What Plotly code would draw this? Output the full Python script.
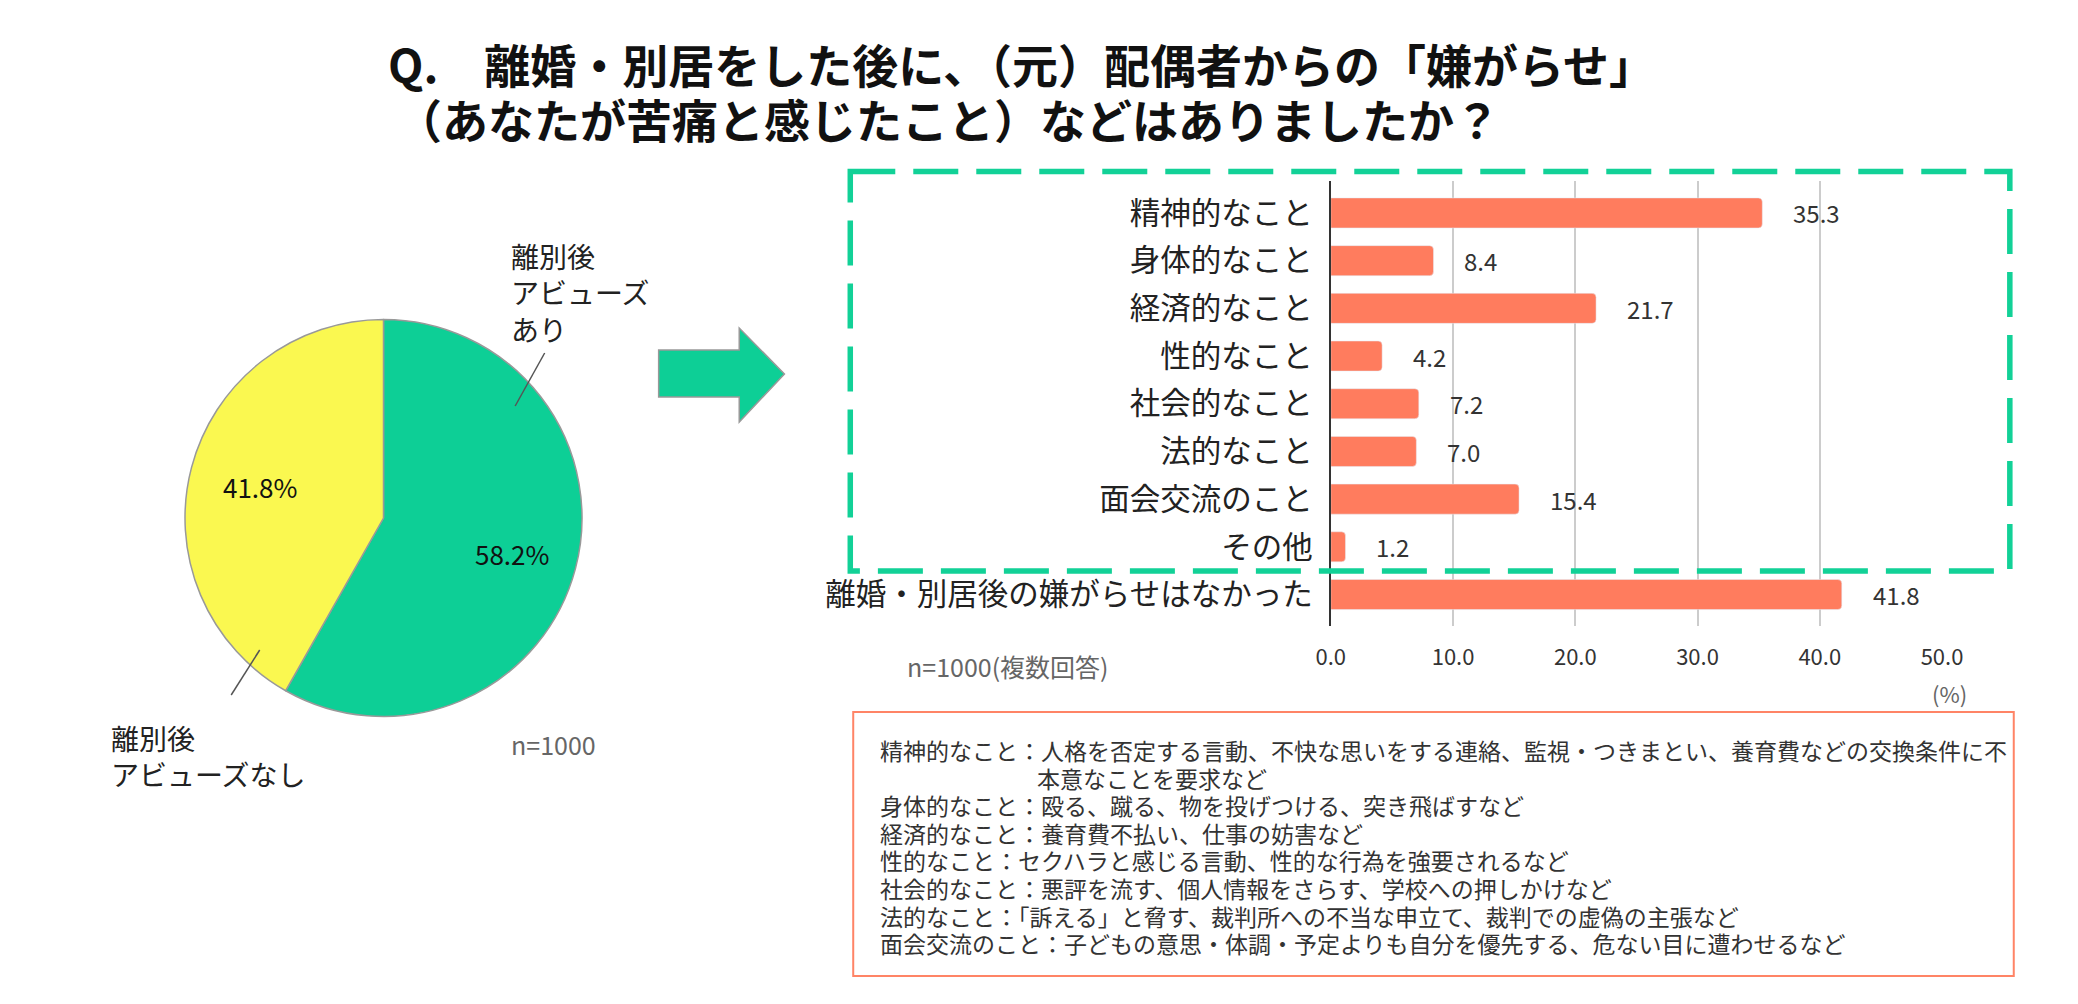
import plotly.graph_objects as go

W, H = 2078, 1004
FONT = "Noto Sans CJK JP"

# ---- data ----
title_lines = ["Q.　離婚・別居をした後に、（元）配偶者からの「嫌がらせ」",
               "（あなたが苦痛と感じたこと）などはありましたか？"]
pie_labels = ["離別後<br>アビューズ<br>あり", "離別後<br>アビューズなし"]
pie_values = [58.2, 41.8]
pie_colors = ["#0DCF96", "#FAF850"]
pie_n = "n=1000"

bar_categories = ["精神的なこと", "身体的なこと", "経済的なこと", "性的なこと",
                  "社会的なこと", "法的なこと", "面会交流のこと", "その他",
                  "離婚・別居後の嫌がらせはなかった"]
bar_values = [35.3, 8.4, 21.7, 4.2, 7.2, 7.0, 15.4, 1.2, 41.8]
bar_color = "#FF7C5E"
x_ticks = [0, 10, 20, 30, 40, 50]
bar_note = "n=1000(複数回答)"
unit_label = "(%)"

notes = [
    ("精神的なこと：人格を否定する言動、不快な思いをする連絡、監視・つきまとい、養育費などの交換条件に不", 0),
    ("本意なことを要求など", 1),
    ("身体的なこと：殴る、蹴る、物を投げつける、突き飛ばすなど", 0),
    ("経済的なこと：養育費不払い、仕事の妨害など", 0),
    ("性的なこと：セクハラと感じる言動、性的な行為を強要されるなど", 0),
    ("社会的なこと：悪評を流す、個人情報をさらす、学校への押しかけなど", 0),
    ("法的なこと：「訴える」と脅す、裁判所への不当な申立て、裁判での虚偽の主張など", 0),
    ("面会交流のこと：子どもの意思・体調・予定よりも自分を優先する、危ない目に遭わせるなど", 0),
]


def X(px):
    return px / W


def Y(py):
    return 1 - py / H


fig = go.Figure()

# pie
fig.add_trace(go.Pie(
    values=pie_values, labels=pie_labels, sort=False, direction="clockwise",
    rotation=0, marker=dict(colors=pie_colors, line=dict(color="#999999", width=1.5)),
    textinfo="none", showlegend=False, hoverinfo="skip",
    domain=dict(x=[X(173), X(577)], y=[Y(720), Y(316)]),
))

# bars
fig.add_trace(go.Bar(
    x=bar_values, y=bar_categories, orientation="h",
    marker=dict(color=bar_color, cornerradius=4),
    showlegend=False, hoverinfo="skip", xaxis="x", yaxis="y",
))

fig.update_layout(
    width=W, height=H, margin=dict(l=0, r=0, t=0, b=0),
    paper_bgcolor="white", plot_bgcolor="white",
    font=dict(family=FONT, color="#222222"),
    bargap=0.37,
    xaxis=dict(domain=[X(1339), X(1961)], range=[0, 50], tickvals=x_ticks,
               ticktext=[f"{v:.1f}" for v in x_ticks], showgrid=True,
               gridcolor="#CCCCCC", gridwidth=1.5, zeroline=False,
               ticks="outside", ticklen=12, tickcolor="rgba(0,0,0,0)",
               tickfont=dict(size=22, color="#333333"), showline=False),
    yaxis=dict(domain=[Y(626), Y(181)], range=[8.66, -0.67],
               showline=True, linecolor="#333333", linewidth=2,
               ticks="outside", ticklen=10, tickcolor="rgba(0,0,0,0)",
               tickfont=dict(size=30.5, color="#222222"), showgrid=False),
)

ann = []
# title
for i, t in enumerate(title_lines):
    ann.append(dict(x=X(378 if i == 0 else 386), y=Y(63 + 55 * i), xref="paper", yref="paper",
                    text=f"<b>{t}</b>", showarrow=False, xanchor="left", yanchor="middle",
                    font=dict(size=46, color="#111111")))

# pie percentages
pct_pos = [(506, 553), (249, 486)]
for v, (px, py) in zip(pie_values, pct_pos):
    ann.append(dict(x=X(px), y=Y(py), xref="paper", yref="paper", text=f"{v}%",
                    showarrow=False, xanchor="center", yanchor="middle",
                    font=dict(size=26, color="#111111")))

# pie outer labels
ann.append(dict(x=X(503), y=Y(293), xref="paper", yref="paper", text=pie_labels[0],
                showarrow=False, xanchor="left", yanchor="middle", align="left",
                font=dict(size=28, color="#222222")))
ann.append(dict(x=X(96), y=Y(756), xref="paper", yref="paper", text=pie_labels[1],
                showarrow=False, xanchor="left", yanchor="middle", align="left",
                font=dict(size=28, color="#222222")))
ann.append(dict(x=X(503), y=Y(744), xref="paper", yref="paper", text=pie_n,
                showarrow=False, xanchor="left", yanchor="middle",
                font=dict(size=25, color="#666666")))

# bar value labels
for c, v in zip(bar_categories, bar_values):
    ann.append(dict(x=v, y=c, xref="x", yref="y", text=f"{v:.1f}", showarrow=False,
                    xanchor="left", yanchor="middle", xshift=29,
                    font=dict(size=24, color="#333333")))

ann.append(dict(x=X(906), y=Y(666), xref="paper", yref="paper", text=bar_note,
                showarrow=False, xanchor="left", yanchor="middle",
                font=dict(size=25, color="#666666")))
ann.append(dict(x=X(1969), y=Y(693), xref="paper", yref="paper", text=unit_label,
                showarrow=False, xanchor="center", yanchor="middle",
                font=dict(size=22, color="#666666")))

# notes
for i, (t, indent) in enumerate(notes):
    ann.append(dict(x=X(878 if indent == 0 else 1038), y=Y(750 + 27.6 * i),
                    xref="paper", yref="paper", text=t, showarrow=False,
                    xanchor="left", yanchor="middle", font=dict(size=23, color="#333333")))

fig.update_layout(annotations=ann)

shapes = []
# leader lines
shapes.append(dict(type="line", xref="paper", yref="paper", x0=X(539), y0=Y(353),
                   x1=X(509), y1=Y(406), line=dict(color="#555555", width=1.5)))
shapes.append(dict(type="line", xref="paper", yref="paper", x0=X(249), y0=Y(650),
                   x1=X(220), y1=Y(695), line=dict(color="#555555", width=1.5)))
# arrow
pts = [(655, 350), (737, 350), (737, 328), (783, 374), (737, 422), (737, 397), (655, 397)]
path = "M " + " L ".join(f"{X(a)},{Y(b)}" for a, b in pts) + " Z"
shapes.append(dict(type="path", xref="paper", yref="paper", path=path,
                   fillcolor="#0DCF96", line=dict(color="#999999", width=1.5)))
# dashed box
shapes.append(dict(type="rect", xref="paper", yref="paper", x0=X(850), y0=Y(171.5),
                   x1=X(2030), y1=Y(571), line=dict(color="#12D197", width=5.5, dash="45px,18px")))
# notes box
shapes.append(dict(type="rect", xref="paper", yref="paper", x0=X(853), y0=Y(712),
                   x1=X(2034), y1=Y(976), line=dict(color="#FF8466", width=2)))
fig.update_layout(shapes=shapes)

fig.write_html("out.html", config={"displayModeBar": False},
               post_script="document.body.style.margin='0';document.body.style.overflow='hidden';")
